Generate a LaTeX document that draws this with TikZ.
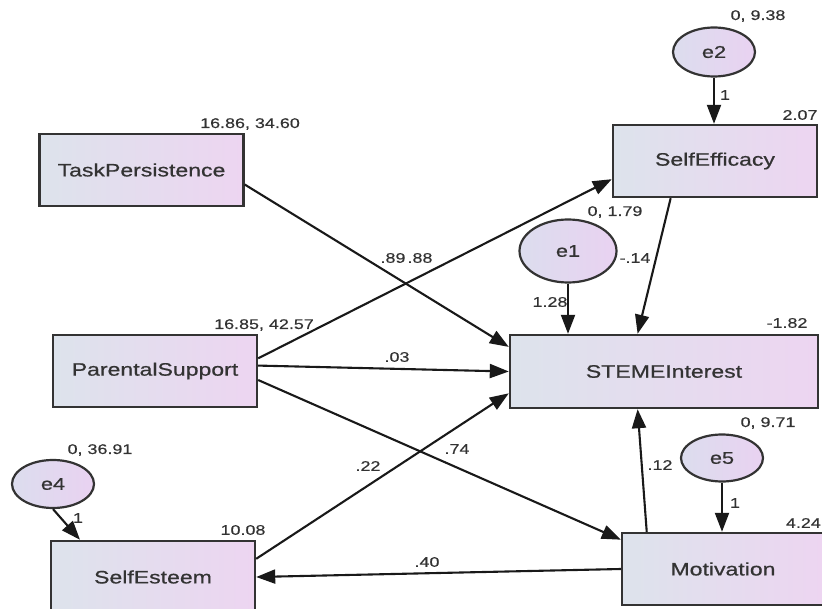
\documentclass[tikz,border=0pt]{standalone}
\usepackage{fontspec}
\setmainfont{Liberation Sans}[FakeStretch=1.28,FakeBold=0.35]
\newfontfamily\heavyfont{Liberation Sans}[FakeStretch=1.28,FakeBold=0.7]
\usepackage{xcolor}
\usetikzlibrary{arrows.meta,calc,positioning,shapes.geometric}
\definecolor{boxleft}{HTML}{DDE3EC}
\definecolor{boxright}{HTML}{EDD5F1}
\definecolor{errleft}{HTML}{DCDDEE}
\definecolor{errright}{HTML}{E9D2F1}
\definecolor{ink}{HTML}{333333}

\begin{document}
\begin{tikzpicture}[x=1pt,y=-1pt,
  var/.style={draw=ink,line width=2.4pt,left color=boxleft,right color=boxright,
    minimum width=204pt,minimum height=72pt,inner sep=0pt,
    font=\heavyfont\fontsize{18}{20}\selectfont,text=ink},
  err/.style={ellipse,draw=ink,line width=2.2pt,left color=errleft,right color=errright,
    minimum width=82pt,minimum height=49pt,inner sep=0pt,
    font=\heavyfont\fontsize{17}{19}\selectfont,text=ink},
  lab/.style={font=\fontsize{14}{16}\selectfont,text=ink,inner sep=0pt},
  link/.style={-{Triangle[length=19pt,width=14pt]},line width=2.1pt,draw=black!90}]
  \useasboundingbox (0,0) rectangle (822,609);
  % observed variables
  \node[var] (tp) at (141.5,170) {TaskPersistence};
  \node[var] (ps) at (155,371) {ParentalSupport};
  \node[var] (se) at (153,577) {SelfEsteem};
  \node[var] (sef) at (715,161) {SelfEfficacy};
  \node[var,minimum width=308pt,minimum height=73pt] (si) at (664,371.5) {STEMEInterest};
  \node[var,minimum width=202pt] (mo) at (723,569) {Motivation};
  % error terms
  \node[err] (e2) at (714,52) {e2};
  \node[err,minimum width=97pt,minimum height=63pt] (e1) at (568,251) {e1};
  \node[err,minimum height=47pt] (e5) at (722,458) {e5};
  \node[err,minimum height=48pt] (e4) at (53,484) {e4};
  % paths
  \draw[link] (e2) -- (e2 |- sef.north);
  \draw[link] (e1) -- (e1 |- si.north);
  \draw[link] (e5) -- (e5 |- mo.north);
  \draw[link] (e4.south) -- (se.153);
  \draw[link] (sef.220) -- (si.125);
  \draw[link] (tp.-8) -- (si.171);
  \draw[link] (ps.7) -- (sef.190);
  \draw[link] (ps.3) -- (si.west);
  \draw[link] (ps.-5) -- (mo.164);
  \draw[link] (se.10) -- (si.188);
  \draw[link] (mo.154) -- (si.235);
  \draw[link] (mo.west) -- (se.east);
  % estimates
  \node[lab] (vtp) at (250,124) {16.86, 34.60};
  \node[lab] (vps) at (264,325) {16.85, 42.57};
  \node[lab] (ve4) at (100,450) {0, 36.91};
  \node[lab] (ve2) at (758,16) {0, 9.38};
  \node[lab] (ve1) at (615,212) {0, 1.79};
  \node[lab] (ve5) at (768,423) {0, 9.71};
  \node[lab] (isef) at (800,115) {2.07};
  \node[lab] (isi) at (787,323) {-1.82};
  \node[lab] (ise) at (243,530) {10.08};
  \node[lab,anchor=east] (imo) at (821,523) {4.24};
  \node[lab] (w2) at (725,95) {1};
  \node[lab] (w4) at (78,518) {1};
  \node[lab] (w5) at (735,503) {1};
  \node[lab] (b1) at (550,302) {1.28};
  \node[lab] (bsef) at (635,258) {-.14};
  \node[lab] (bps) at (393,258) {.89};
  \node[lab] (btp) at (420,258) {.88};
  \node[lab] (bpsi) at (397,357) {.03};
  \node[lab] (bpmo) at (457,449) {.74};
  \node[lab] (bse) at (368,466) {.22};
  \node[lab] (bmo) at (660,465) {.12};
  \node[lab] (bmse) at (427,562) {.40};
\end{tikzpicture}
\end{document}
